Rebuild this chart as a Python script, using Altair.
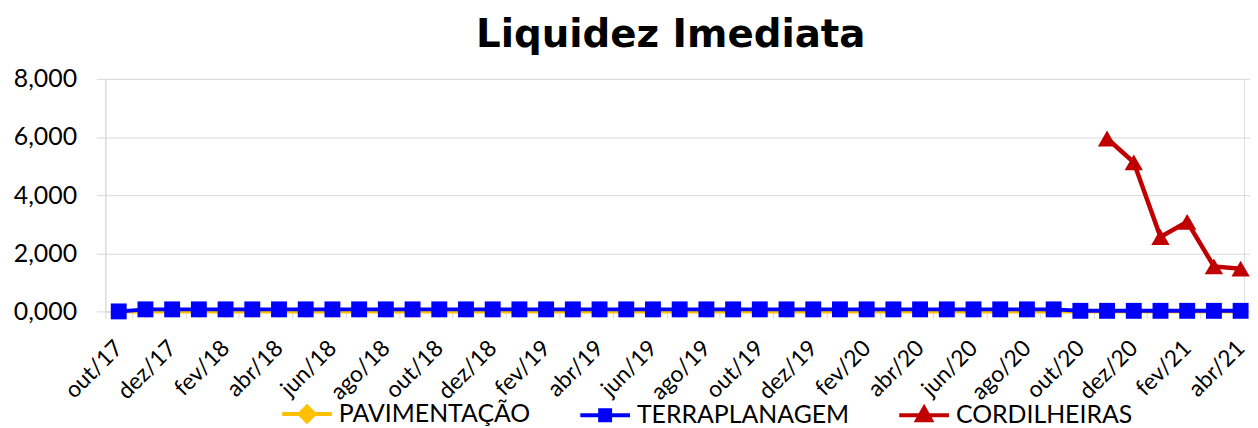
import altair as alt
import pandas as pd

months = [
    "out/17", "nov/17", "dez/17", "jan/18", "fev/18", "mar/18", "abr/18", "mai/18",
    "jun/18", "jul/18", "ago/18", "set/18", "out/18", "nov/18", "dez/18", "jan/19",
    "fev/19", "mar/19", "abr/19", "mai/19", "jun/19", "jul/19", "ago/19", "set/19",
    "out/19", "nov/19", "dez/19", "jan/20", "fev/20", "mar/20", "abr/20", "mai/20",
    "jun/20", "jul/20", "ago/20", "set/20", "out/20", "nov/20", "dez/20", "jan/21",
    "fev/21", "mar/21", "abr/21",
]

pavimentacao = [
    0.00, 0.00, 0.00, 0.00, 0.00, 0.00, 0.00, 0.00,
    0.00, 0.00, 0.00, 0.00, 0.00, 0.00, 0.00, 0.00,
    0.00, 0.00, 0.00, 0.00, 0.00, 0.00, 0.00, 0.00,
    0.00, 0.00, 0.00, 0.00, 0.00, 0.00, 0.00, 0.00,
    0.00, 0.00, 0.00, 0.00, 0.00, 0.00, 0.00, 0.00,
    0.00, 0.00, 0.00,
]

terraplanagem = [
    0.00, 0.07, 0.07, 0.07, 0.07, 0.07, 0.07, 0.07,
    0.07, 0.07, 0.07, 0.07, 0.07, 0.07, 0.07, 0.07,
    0.07, 0.07, 0.07, 0.07, 0.07, 0.07, 0.07, 0.07,
    0.07, 0.07, 0.07, 0.07, 0.07, 0.07, 0.07, 0.07,
    0.07, 0.07, 0.07, 0.07, 0.02, 0.02, 0.02, 0.02,
    0.02, 0.02, 0.02,
]

cordilheiras = [
    None, None, None, None, None, None, None, None,
    None, None, None, None, None, None, None, None,
    None, None, None, None, None, None, None, None,
    None, None, None, None, None, None, None, None,
    None, None, None, None, None, 5.95, 5.13, 2.56,
    3.08, 1.55, 1.47,
]

series_names = ["PAVIMENTAÇÃO", "TERRAPLANAGEM", "CORDILHEIRAS"]
series_values = [pavimentacao, terraplanagem, cordilheiras]
colors = ["#FFC000", "#0000FF", "#C00000"]
shapes = ["diamond", "square", "triangle-up"]
marker_sizes = [170, 256, 340]
line_widths = [4, 4, 4.5]
legend_paths = [
    "M-1,0H1M0,-0.3L0.3,0L0,0.3L-0.3,0Z",
    "M-1,0H1M-0.2,-0.2H0.2V0.2H-0.2Z",
    "M-1,0H1M0,-0.3L0.28,0.2L-0.28,0.2Z",
]

rows = []
for name, vals in zip(series_names, series_values):
    for m, v in zip(months, vals):
        if v is not None:
            rows.append({"month": m, "series": name, "value": v})
df = pd.DataFrame(rows)

LABEL_FONT = "Lato"
GRID = "#D9D9D9"

x_enc = alt.X(
    "month:O",
    sort=months,
    scale=alt.Scale(type="band", paddingInner=0, paddingOuter=0, range=[0, 1156]),
    axis=alt.Axis(
        values=months[::2],
        tickBand="extent",
        grid=False,
        ticks=True,
        tickColor=GRID,
        tickSize=7,
        domainColor=GRID,
        labelAngle=-45,
        labelAlign="right",
        labelBaseline="middle",
        labelFont=LABEL_FONT,
        labelFontSize=23,
        labelColor="black",
        labelPadding=26,
        labelOverlap=False,
        title=None,
    ),
)

y_enc = alt.Y(
    "value:Q",
    scale=alt.Scale(domain=[0, 8]),
    axis=alt.Axis(
        values=[0, 2, 4, 6, 8],
        labelExpr="replace(format(datum.value, '.3f'), '.', ',')",
        grid=True,
        gridColor=GRID,
        domainColor=GRID,
        tickColor=GRID,
        tickSize=9,
        labelPadding=20,
        labelFont=LABEL_FONT,
        labelFontSize=25,
        labelColor="black",
        title=None,
    ),
)

base = alt.Chart(df).encode(x=x_enc, y=y_enc)

layers = []
for name, col, shp, sz, lw in zip(series_names, colors, shapes, marker_sizes, line_widths):
    sub = base.transform_filter(alt.datum.series == name)
    layers.append(sub.mark_line(color=col, strokeWidth=lw))
    layers.append(sub.mark_point(filled=True, shape=shp, size=sz, color=col, opacity=1))

leg = alt.Legend(
    title=None,
    orient="none",
    legendX=176,
    legendY=310,
    direction="horizontal",
    symbolSize=2500,
    symbolOpacity=1,
    symbolStrokeWidth=4,
    labelFont=LABEL_FONT,
    labelFontSize=25,
    labelColor="black",
    labelOffset=5,
    labelLimit=400,
    columnPadding=42,
)

legend_layer = base.mark_point(filled=True, opacity=0, strokeWidth=4).encode(
    fill=alt.Fill("series:N", scale=alt.Scale(domain=series_names, range=colors), legend=leg),
    stroke=alt.Stroke("series:N", scale=alt.Scale(domain=series_names, range=colors), legend=leg),
    shape=alt.Shape("series:N", scale=alt.Scale(domain=series_names, range=legend_paths), legend=leg),
)

chart = alt.layer(*layers, legend_layer).properties(
    width=1146,
    height=234,
    autosize=alt.AutoSizeParams(type="none"),
    padding={"left": 98, "top": 70, "right": 6, "bottom": 118},
    title=alt.Title(
        "Liquidez Imediata",
        font="DejaVu Sans",
        fontSize=39,
        fontWeight="bold",
        color="black",
        anchor="middle",
        frame="group",
        offset=-19,
        dx=-4,
        baseline="alphabetic",
    ),
).configure_view(stroke=None).configure(background="white")

chart.save("out.html", embed_options={"renderer": "svg", "actions": False})
